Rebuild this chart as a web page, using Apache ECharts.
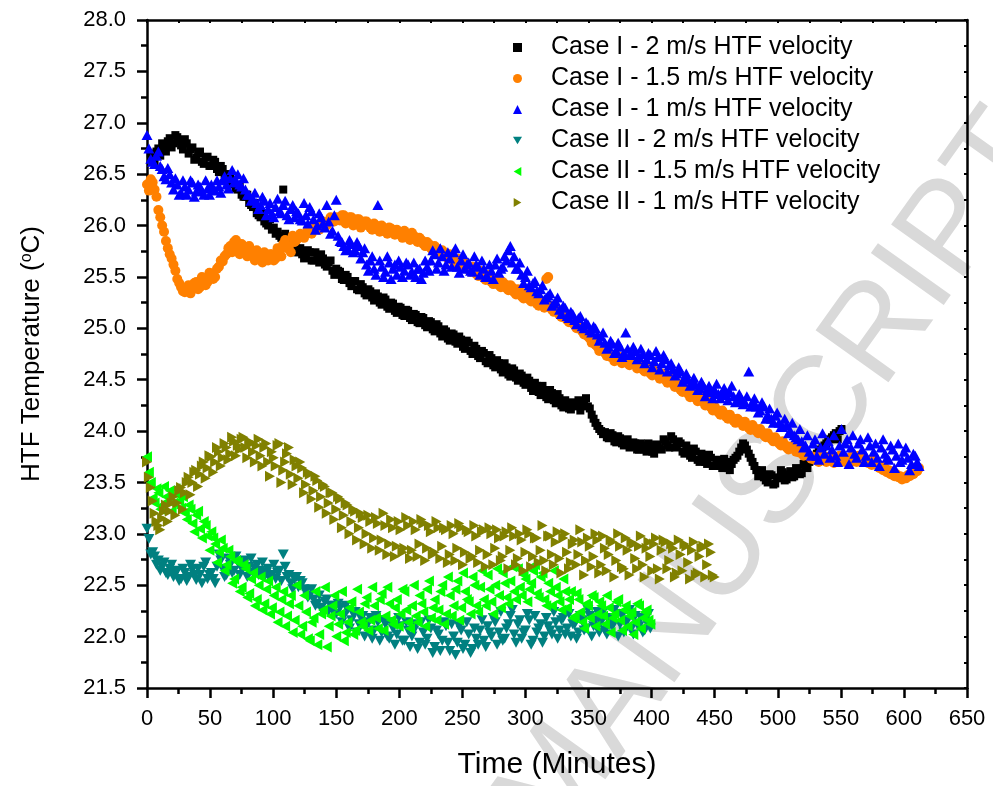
<!DOCTYPE html>
<html><head><meta charset="utf-8">
<script src="https://cdn.jsdelivr.net/npm/echarts/dist/echarts.min.js"></script>
<style>html,body{margin:0;padding:0;background:#fff}#c{width:993px;height:786px}</style>
</head><body><div id="c"></div>
<script>
// Logged every 3 minutes; the "b" arrays are the interleaved readings (offset 1.5 min)
const STEP = 3;
const seriesNames = [
  'Case I - 2 m/s HTF velocity',
  'Case I - 1.5 m/s HTF velocity',
  'Case I - 1 m/s HTF velocity',
  'Case II - 2 m/s HTF velocity',
  'Case II - 1.5 m/s HTF velocity',
  'Case II - 1 m/s HTF velocity'
];
const startA = [3, 0, 0, 0, 0, 0];
const startB = [4.5, 1.5, 1.5, 1.5, 1.5, 1.5];

const case1_2ms = [
  26.70,26.62,26.75,26.80,26.72,26.85,26.80,26.86,26.78,26.84,
  26.70,26.76,26.66,26.72,26.60,26.67,26.58,26.62,26.52,26.55,
  26.46,26.50,26.40,26.35,26.30,26.28,26.22,26.18,26.12,26.08,
  26.04,26.00,25.96,25.92,25.90,26.35,25.85,25.80,25.76,25.74,
  25.72,25.70,25.74,25.66,25.68,25.72,25.62,25.64,25.56,25.58,
  25.55,25.47,25.50,25.41,25.46,25.37,25.40,25.32,25.36,25.27,
  25.31,25.23,25.28,25.19,25.24,25.15,25.20,25.12,25.17,25.08,
  25.13,25.05,25.10,25.01,25.06,24.97,25.02,24.92,24.97,24.88,
  24.94,24.85,24.89,24.80,24.86,24.75,24.80,24.71,24.76,24.66,
  24.71,24.62,24.66,24.57,24.62,24.53,24.59,24.49,24.54,24.45,
  24.49,24.39,24.44,24.35,24.40,24.31,24.37,24.27,24.32,24.23,
  24.26,24.21,24.25,24.30,24.27,24.32,24.22,24.12,24.05,24.00,
  23.99,23.93,23.96,23.89,23.93,23.86,23.92,23.85,23.88,23.82,
  23.86,23.80,23.85,23.78,23.86,23.82,23.90,23.84,23.92,23.85,
  23.88,23.78,23.82,23.74,23.80,23.70,23.76,23.68,23.74,23.66,
  23.72,23.64,23.70,23.62,23.72,23.76,23.84,23.86,23.78,23.70,
  23.62,23.58,23.55,23.50,23.57,23.49,23.55,23.60,23.53,23.61,
  23.56,23.63,23.59,23.66,23.70,23.74,23.78,23.82,23.86,23.90,
  23.94,23.98,24.00
];
const case1_2ms_b = [
  26.66,26.72,26.68,26.78,26.82,26.76,26.88,26.82,26.74,26.80,
  26.74,26.64,26.70,26.62,26.66,26.58,26.64,26.55,26.58,26.50,
  26.44,26.42,26.36,26.38,26.28,26.30,26.20,26.22,26.10,26.12,
  26.02,26.06,25.98,25.94,25.88,25.92,25.82,25.86,25.74,25.78,
  25.68,25.76,25.66,25.74,25.64,25.68,25.60,25.66,25.52,25.56,
  25.48,25.52,25.44,25.46,25.38,25.43,25.34,25.38,25.30,25.34,
  25.25,25.30,25.21,25.25,25.17,25.21,25.13,25.18,25.10,25.14,
  25.06,25.11,25.03,25.07,24.99,25.04,24.95,24.99,24.90,24.95,
  24.87,24.92,24.82,24.88,24.78,24.83,24.73,24.78,24.68,24.74,
  24.64,24.69,24.60,24.66,24.55,24.61,24.52,24.56,24.47,24.52,
  24.42,24.47,24.38,24.44,24.33,24.40,24.30,24.36,24.25,24.30,
  24.22,24.28,24.24,24.20,24.29,24.24,24.16,24.08,24.02,23.97,
  23.94,23.98,23.90,23.95,23.88,23.91,23.84,23.89,23.82,23.88,
  23.82,23.88,23.80,23.87,23.83,23.92,23.86,23.95,23.84,23.90,
  23.80,23.86,23.76,23.83,23.72,23.78,23.70,23.77,23.66,23.72,
  23.66,23.73,23.64,23.68,23.74,23.80,23.88,23.82,23.74,23.66,
  23.56,23.62,23.52,23.58,23.48,23.54,23.62,23.52,23.58,23.55,
  23.64,23.58,23.68,23.64,23.72,23.76,23.80,23.84,23.88,23.92,
  23.96,23.92,24.02
];
const case1_15ms = [
  26.40,26.45,26.35,26.15,26.00,25.85,25.72,25.62,25.48,25.40,
  25.35,25.42,25.38,25.45,25.40,25.48,25.45,25.52,25.50,25.60,
  25.65,25.72,25.80,25.84,25.78,25.82,25.75,25.80,25.70,25.76,
  25.68,25.74,25.66,25.72,25.68,25.75,25.82,25.78,25.74,25.84,
  25.88,25.90,25.92,25.94,25.96,25.98,26.00,26.02,26.04,26.06,
  26.08,26.05,26.10,26.04,26.08,26.02,26.06,26.00,26.04,25.98,
  26.02,25.96,26.00,25.95,25.98,25.94,25.96,25.92,25.95,25.90,
  25.93,25.86,25.88,25.82,25.84,25.78,25.80,25.74,25.76,25.70,
  25.72,25.65,25.68,25.61,25.64,25.57,25.60,25.53,25.56,25.49,
  25.52,25.45,25.48,25.42,25.45,25.39,25.42,25.35,25.38,25.31,
  25.34,25.28,25.31,25.24,25.27,25.20,25.50,25.18,25.20,25.13,
  25.14,25.08,25.10,25.03,25.04,24.97,24.96,24.90,24.88,24.82,
  24.80,24.76,24.74,24.72,24.70,24.72,24.69,24.66,24.68,24.65,
  24.63,24.60,24.62,24.56,24.59,24.54,24.56,24.50,24.52,24.46,
  24.47,24.40,24.42,24.36,24.37,24.32,24.34,24.28,24.30,24.23,
  24.24,24.18,24.20,24.14,24.16,24.10,24.12,24.08,24.09,24.03,
  24.06,24.00,24.02,23.96,23.98,23.92,23.94,23.88,23.90,23.84,
  23.85,23.84,23.82,23.80,23.78,23.76,23.75,23.74,23.76,23.73,
  23.75,23.72,23.74,23.76,23.74,23.72,23.75,23.73,23.76,23.74,
  23.72,23.70,23.72,23.68,23.66,23.64,23.62,23.60,23.58,23.56,
  23.55,23.57,23.60,23.62,23.64
];
const case1_15ms_b = [
  26.34,26.42,26.28,26.08,25.94,25.78,25.68,25.56,25.44,25.36,
  25.40,25.34,25.44,25.38,25.50,25.42,25.54,25.48,25.58,25.66,
  25.70,25.78,25.74,25.86,25.72,25.80,25.70,25.76,25.66,25.72,
  25.64,25.70,25.72,25.66,25.78,25.70,25.86,25.80,25.90,25.86,
  25.92,25.88,25.96,25.92,26.00,25.96,26.04,26.00,26.08,26.04,
  26.06,26.10,26.02,26.08,26.00,26.06,25.98,26.04,26.00,25.96,
  26.00,25.94,25.98,25.92,25.97,25.91,25.94,25.88,25.92,25.86,
  25.90,25.84,25.86,25.80,25.82,25.76,25.78,25.72,25.74,25.68,
  25.70,25.63,25.66,25.59,25.62,25.55,25.58,25.51,25.54,25.47,
  25.50,25.43,25.46,25.40,25.43,25.37,25.40,25.33,25.36,25.29,
  25.32,25.26,25.29,25.22,25.25,25.48,25.22,25.16,25.18,25.11,
  25.12,25.06,25.07,25.00,25.00,24.94,24.92,24.86,24.84,24.78,
  24.78,24.73,24.72,24.68,24.70,24.66,24.70,24.64,24.66,24.61,
  24.64,24.58,24.60,24.54,24.57,24.51,24.53,24.47,24.49,24.43,
  24.44,24.38,24.39,24.33,24.35,24.29,24.31,24.25,24.27,24.20,
  24.21,24.16,24.17,24.12,24.13,24.08,24.10,24.05,24.06,24.01,
  24.03,23.98,23.99,23.94,23.95,23.90,23.91,23.86,23.87,23.82,
  23.83,23.80,23.79,23.76,23.77,23.73,23.72,23.70,23.73,23.70,
  23.72,23.69,23.71,23.73,23.70,23.68,23.72,23.70,23.73,23.71,
  23.69,23.67,23.68,23.64,23.62,23.60,23.58,23.56,23.55,23.53,
  23.54,23.56,23.58,23.61
];
const case1_1ms = [
  26.88,26.65,26.60,26.72,26.55,26.45,26.50,26.35,26.40,26.32,
  26.38,26.35,26.42,26.33,26.38,26.30,26.36,26.40,26.34,26.38,
  26.44,26.40,26.46,26.42,26.50,26.38,26.35,26.30,26.26,26.22,
  26.20,26.24,26.16,26.12,26.18,26.14,26.20,26.10,26.16,26.08,
  26.12,26.05,26.10,26.18,26.06,26.00,26.08,25.98,26.04,25.95,
  26.25,25.85,25.80,25.78,25.82,25.76,25.80,25.74,25.62,25.66,
  25.58,26.20,25.60,25.55,25.64,25.58,25.52,25.60,25.56,25.62,
  25.55,25.50,25.58,25.54,25.60,25.66,25.72,25.64,25.70,25.62,
  25.68,25.74,25.60,25.66,25.58,25.64,25.55,25.62,25.52,25.58,
  25.50,25.56,25.62,25.54,25.60,25.66,25.80,25.70,25.58,25.52,
  25.50,25.42,25.44,25.36,25.38,25.28,25.32,25.22,25.26,25.18,
  25.22,25.12,25.16,25.08,25.10,25.02,25.06,24.98,25.02,24.94,
  24.92,24.86,24.82,24.85,24.78,24.82,24.76,24.80,24.75,24.78,
  24.72,24.75,24.70,24.74,24.68,24.72,24.66,24.70,24.64,24.60,
  24.56,24.58,24.52,24.50,24.48,24.45,24.42,24.44,24.40,24.38,
  24.40,24.36,24.38,24.35,24.38,24.34,24.30,24.32,24.28,24.58,
  24.28,24.24,24.20,24.24,24.16,24.12,24.15,24.08,24.04,24.06,
  24.00,23.96,23.92,23.90,23.86,23.80,23.88,23.76,23.84,23.78,
  23.90,23.82,23.76,23.86,23.80,23.92,23.84,23.78,23.88,23.82,
  23.76,23.86,23.80,23.74,23.84,23.78,23.72,23.82,23.76,23.70,
  23.80,23.74,23.68,23.76,23.66
];
const case1_1ms_b = [
  26.75,26.62,26.68,26.58,26.48,26.56,26.42,26.46,26.30,26.44,
  26.30,26.44,26.28,26.40,26.34,26.44,26.30,26.36,26.44,26.32,
  26.48,26.36,26.54,26.44,26.40,26.46,26.30,26.24,26.32,26.16,
  26.28,26.10,26.22,26.08,26.26,26.12,26.24,26.06,26.20,26.14,
  26.06,26.22,26.02,26.14,25.96,26.12,26.02,26.20,25.92,26.10,
  25.90,25.84,25.76,25.86,25.74,25.84,25.68,25.78,25.56,25.70,
  25.52,25.66,25.50,25.70,25.48,25.62,25.66,25.50,25.64,25.52,
  25.64,25.58,25.48,25.66,25.56,25.76,25.58,25.78,25.56,25.74,
  25.60,25.78,25.54,25.72,25.62,25.56,25.70,25.60,25.66,25.50,
  25.62,25.48,25.68,25.58,25.70,25.76,25.64,25.58,25.64,25.44,
  25.56,25.40,25.46,25.34,25.42,25.30,25.34,25.24,25.30,25.14,
  25.20,25.10,25.14,25.04,25.12,25.00,25.04,24.96,25.00,24.88,
  24.96,24.80,24.88,24.76,24.86,24.72,24.96,24.74,24.82,24.70,
  24.80,24.66,24.76,24.62,24.78,24.60,24.74,24.58,24.66,24.54,
  24.62,24.48,24.56,24.44,24.52,24.40,24.48,24.34,24.44,24.32,
  24.46,24.32,24.42,24.30,24.44,24.28,24.36,24.26,24.34,24.24,
  24.32,24.18,24.28,24.12,24.22,24.08,24.18,24.04,24.12,23.98,
  24.08,23.94,24.02,23.84,23.96,23.76,23.92,23.72,23.98,23.86,
  23.74,23.96,23.70,24.02,23.88,23.68,23.96,23.74,23.92,23.70,
  23.94,23.70,23.88,23.66,23.92,23.74,23.86,23.64,23.88,23.72,
  23.84,23.62,23.78,23.70
];
const case2_2ms = [
  23.05,22.80,22.78,22.74,22.68,22.62,22.66,22.58,22.64,22.56,
  22.62,22.58,22.65,22.55,22.60,22.68,22.56,22.62,22.52,22.80,
  22.66,22.60,22.70,22.64,22.72,22.66,22.74,22.68,22.62,22.70,
  22.64,22.58,22.66,22.60,22.56,22.64,22.80,22.58,22.52,22.56,
  22.48,22.52,22.44,22.40,22.36,22.32,22.28,22.34,22.25,22.30,
  22.22,22.28,22.20,22.26,22.16,22.24,22.12,22.20,22.10,22.18,
  22.06,22.14,22.04,22.12,21.98,22.08,22.02,22.10,21.96,22.06,
  22.00,22.12,21.94,22.04,21.98,22.08,21.90,22.02,21.96,22.10,
  21.86,22.00,21.94,22.06,21.92,22.02,21.88,21.98,22.06,21.96,
  22.10,22.00,22.14,22.04,21.96,22.08,22.20,22.02,22.12,21.98,
  22.06,22.16,21.96,22.04,22.12,22.00,22.10,22.02,22.14,22.06,
  22.18,22.08,22.00,22.12,22.04,22.16,22.08,22.20,22.10,22.24,
  22.14,22.06,22.18,22.10,22.22,22.12,22.04,22.16,22.08,22.20,
  22.10,22.04,22.14,22.08
];
const case2_2ms_b = [
  22.95,22.82,22.70,22.64,22.72,22.60,22.70,22.62,22.54,22.66,
  22.54,22.70,22.60,22.66,22.52,22.72,22.60,22.56,22.68,22.74,
  22.58,22.76,22.62,22.78,22.60,22.70,22.58,22.76,22.66,22.60,
  22.72,22.62,22.56,22.70,22.62,22.54,22.68,22.60,22.46,22.58,
  22.54,22.46,22.38,22.46,22.30,22.40,22.24,22.36,22.30,22.22,
  22.32,22.14,22.30,22.08,22.22,22.04,22.18,22.00,22.14,21.98,
  22.20,21.96,22.16,22.00,22.14,21.92,22.18,21.96,22.14,21.90,
  22.06,21.88,22.14,21.92,22.16,21.84,22.06,21.86,22.14,21.94,
  22.12,21.82,22.10,21.88,22.14,21.84,22.08,21.92,22.16,21.90,
  22.04,22.18,21.92,22.24,21.98,22.12,22.26,21.94,22.16,22.04,
  22.22,21.92,22.20,22.08,21.94,22.18,22.06,22.24,21.98,22.16,
  22.02,22.22,22.12,21.98,22.20,22.06,22.26,22.00,22.16,22.04,
  22.24,22.02,22.12,22.26,22.00,22.20,22.14,22.26,22.02,22.12,
  22.18,22.06,22.22
];
const case2_15ms = [
  23.75,23.50,23.30,23.40,23.28,23.36,23.42,23.30,23.38,23.25,
  23.20,23.28,23.10,23.18,23.05,23.12,22.98,23.02,22.90,22.82,
  22.86,22.70,22.78,22.56,22.72,22.48,22.66,22.42,22.62,22.36,
  22.58,22.32,22.54,22.28,22.48,22.24,22.44,22.20,22.40,22.16,
  22.30,22.10,22.24,21.96,22.18,21.92,22.22,22.48,22.10,22.30,
  22.00,22.22,21.96,22.14,22.34,22.06,22.24,22.10,22.38,22.16,
  22.30,22.08,22.42,22.20,22.32,22.12,22.36,22.22,22.44,22.14,
  22.30,22.20,22.40,22.24,22.46,22.18,22.36,22.26,22.50,22.22,
  22.40,22.30,22.54,22.28,22.44,22.34,22.58,22.30,22.48,22.36,
  22.60,22.34,22.50,22.40,22.62,22.38,22.54,22.44,22.66,22.40,
  22.56,22.46,22.64,22.42,22.58,22.36,22.52,22.30,22.48,22.34,
  22.56,22.28,22.44,22.20,22.36,22.14,22.32,22.18,22.38,22.22,
  22.30,22.12,22.28,22.18,22.34,22.16,22.26,22.10,22.24,22.14,
  22.30,22.18,22.26,22.12
];
const case2_15ms_b = [
  23.60,23.35,23.44,23.24,23.46,23.32,23.22,23.44,23.32,23.36,
  23.14,23.24,23.02,23.22,22.96,23.08,22.84,22.96,22.72,22.94,
  22.64,22.84,22.52,22.74,22.44,22.70,22.38,22.56,22.30,22.50,
  22.26,22.46,22.22,22.40,22.14,22.36,22.10,22.32,22.04,22.50,
  22.02,22.40,21.98,22.14,22.44,22.02,22.26,21.90,22.20,22.40,
  22.12,22.44,22.04,22.28,22.02,22.46,22.14,22.32,22.06,22.48,
  22.18,22.36,22.06,22.48,22.16,22.28,22.10,22.46,22.26,22.08,
  22.50,22.14,22.32,22.10,22.54,22.28,22.16,22.44,22.12,22.58,
  22.20,22.46,22.16,22.62,22.36,22.22,22.50,22.24,22.64,22.30,
  22.46,22.22,22.66,22.28,22.52,22.32,22.68,22.36,22.48,22.60,
  22.34,22.52,22.70,22.38,22.62,22.30,22.44,22.64,22.40,22.26,
  22.44,22.36,22.18,22.42,22.24,22.08,22.30,22.40,22.10,22.34,
  22.20,22.40,22.04,22.22,22.36,22.06,22.30,22.20,22.02,22.32,
  22.08,22.24,22.16
];
const case2_1ms = [
  23.70,23.45,23.20,23.08,23.15,23.28,23.22,23.36,23.30,23.45,
  23.40,23.55,23.50,23.62,23.58,23.70,23.64,23.75,23.70,23.80,
  23.74,23.84,23.78,23.90,23.86,23.92,23.84,23.90,23.80,23.86,
  23.76,23.84,23.70,23.80,23.66,23.88,23.62,23.78,23.58,23.72,
  23.54,23.64,23.48,23.58,23.42,23.52,23.36,23.46,23.30,23.40,
  23.24,23.34,23.18,23.28,23.12,23.22,23.06,23.16,23.00,23.12,
  22.96,23.10,22.94,23.08,22.90,23.06,22.88,23.04,22.86,23.08,
  22.84,23.04,22.90,23.10,22.86,23.02,22.82,23.06,22.88,23.04,
  22.80,23.00,22.86,23.06,22.82,23.02,22.78,22.98,22.84,23.04,
  22.80,23.00,22.86,22.96,22.78,23.02,22.84,22.98,22.76,22.94,
  22.82,23.00,22.78,22.96,22.84,22.74,22.98,22.80,22.92,22.76,
  22.96,22.82,22.72,22.94,22.80,22.92,22.74,22.88,22.78,22.94,
  22.70,22.86,22.80,22.92,22.74,22.88,22.66,22.84,22.92,22.76,
  22.88,22.70,22.86,22.78,22.90,22.66,22.84,22.92,22.74,22.86,
  22.62,22.80,22.90,22.72,22.84,22.60,22.78,22.88,22.70,22.82,
  22.58
];
const case2_1ms_b = [
  23.55,23.32,23.12,23.04,23.22,23.12,23.30,23.18,23.42,23.24,
  23.50,23.38,23.60,23.46,23.66,23.54,23.76,23.60,23.84,23.66,
  23.88,23.72,23.94,23.76,23.82,23.94,23.74,23.88,23.70,23.92,
  23.66,23.88,23.56,23.74,23.86,23.50,23.70,23.84,23.48,23.66,
  23.70,23.40,23.60,23.34,23.56,23.26,23.48,23.20,23.40,23.14,
  23.36,23.06,23.30,23.00,23.24,22.94,23.20,22.90,23.18,22.86,
  23.16,22.84,23.20,22.80,23.14,22.78,23.12,22.82,23.16,22.76,
  23.12,22.78,23.14,22.74,23.08,22.80,23.12,22.76,23.06,22.72,
  23.08,22.74,23.10,22.70,23.04,22.76,23.08,22.72,23.02,22.68,
  23.06,22.70,23.04,22.74,22.98,22.66,23.06,22.70,23.00,22.64,
  23.04,22.68,22.96,22.72,23.08,22.64,22.98,22.70,23.02,22.62,
  23.00,22.66,22.90,22.70,23.04,22.60,22.96,22.68,23.00,22.62,
  22.98,22.64,22.94,22.58,23.00,22.68,22.96,22.60,22.90,22.66,
  22.98,22.58,22.92,22.64,22.96,22.56,22.94,22.66,22.90,22.58,
  22.94,22.64,22.88,22.56,22.92,22.62,22.86,22.58,22.90,22.60
];
const valuesA = [case1_2ms, case1_15ms, case1_1ms, case2_2ms, case2_15ms, case2_1ms];
const valuesB = [case1_2ms_b, case1_15ms_b, case1_1ms_b, case2_2ms_b, case2_15ms_b, case2_1ms_b];
const colors = ['#000000', '#ff8000', '#0000ff', '#008080', '#00ff00', '#808000'];

const FONT = '"Liberation Sans", Arial, sans-serif';
const DOWN = 'path://M0,0L20,0L10,17Z';
const LEFT = 'path://M0,10L17,0L17,20Z';
const RIGHT = 'path://M0,0L17,10L0,20Z';
const symbols = ['rect', 'circle', 'triangle', DOWN, LEFT, RIGHT];
const sizes = [8, 10, [11, 10], [11, 10], [10, 11], [10, 11]];

function pts(start, vals) { return vals.map((v, i) => [start + i * STEP, v]); }

const chart = echarts.init(document.getElementById('c'), null, {renderer: 'canvas'});
const axisLineStyle = {color: '#000', width: 2.5};
chart.setOption({
  animation: false,
  backgroundColor: '#fff',
  textStyle: {fontFamily: FONT},
  grid: {left: 147, top: 20, width: 820, height: 668, containLabel: false},
  graphic: [{
    type: 'text', x: 1078, y: 167, rotation: 0.951, z: -10, silent: true,
    style: {text: 'ACCEPTED MANUSCRIPT', font: '130px "Liberation Sans", Arial, sans-serif',
            fill: '#d9d9d9', align: 'right', verticalAlign: 'bottom'}
  }],
  legend: {
    orient: 'vertical', left: 513, top: 35, padding: 0,
    itemWidth: 9, itemHeight: 9, itemGap: 6,
    textStyle: {fontSize: 25, color: '#000', fontFamily: FONT, lineHeight: 24, padding: [0, 0, 0, 24]},
    data: seriesNames
  },
  xAxis: [{
    type: 'value', min: 0, max: 650, interval: 50, position: 'bottom',
    axisLine: {show: true, onZero: false, lineStyle: axisLineStyle},
    axisTick: {show: true, inside: false, length: 10, lineStyle: axisLineStyle},
    minorTick: {show: true, splitNumber: 2, length: 6, lineStyle: axisLineStyle},
    splitLine: {show: false},
    axisLabel: {fontSize: 22, color: '#000', margin: 20, fontFamily: FONT},
    name: 'Time (Minutes)', nameLocation: 'middle', nameGap: 62,
    nameTextStyle: {fontSize: 30, color: '#000', fontFamily: FONT}
  }, {
    type: 'value', min: 0, max: 650, interval: 25, position: 'top',
    axisLine: {show: true, onZero: false, lineStyle: axisLineStyle},
    axisTick: {show: true, inside: true, length: 3, lineStyle: {color: '#000', width: 2}},
    axisLabel: {show: false}, splitLine: {show: false}
  }],
  yAxis: [{
    type: 'value', min: 21.5, max: 28, interval: 0.5, position: 'left',
    axisLine: {show: true, onZero: false, lineStyle: axisLineStyle},
    axisTick: {show: true, inside: false, length: 10, lineStyle: axisLineStyle},
    minorTick: {show: true, splitNumber: 2, length: 6, lineStyle: axisLineStyle},
    splitLine: {show: false},
    axisLabel: {fontSize: 22, color: '#000', margin: 21, fontFamily: FONT, formatter: v => v.toFixed(1)},
    name: 'HTF Temperature ({sup|o}C)', nameLocation: 'middle', nameGap: 102, nameRotate: 90,
    nameTextStyle: {fontSize: 26, color: '#000', fontFamily: FONT,
      rich: {sup: {fontSize: 16, color: '#000', fontFamily: FONT, verticalAlign: 'top', lineHeight: 26}}}
  }, {
    type: 'value', min: 21.5, max: 28, interval: 0.25, position: 'right',
    axisLine: {show: true, onZero: false, lineStyle: axisLineStyle},
    axisTick: {show: true, inside: true, length: 3, lineStyle: {color: '#000', width: 2}},
    axisLabel: {show: false}, splitLine: {show: false}
  }],
  series: seriesNames.map((name, k) => ({
    name, type: 'scatter', xAxisIndex: 0, yAxisIndex: 0,
    symbol: symbols[k], symbolSize: sizes[k],
    itemStyle: {color: colors[k], opacity: 1},
    emphasis: {disabled: true}, z: 2 + k,
    data: pts(startA[k], valuesA[k]).concat(pts(startB[k], valuesB[k]))
  }))
});
</script></body></html>
